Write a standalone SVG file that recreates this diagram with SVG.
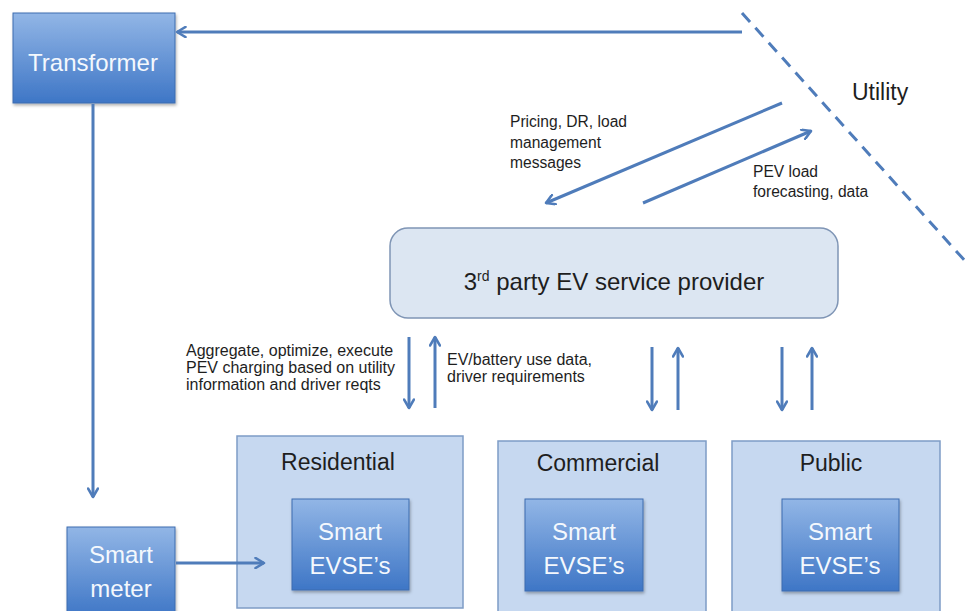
<svg xmlns="http://www.w3.org/2000/svg" width="968" height="611" viewBox="0 0 968 611">
<defs>
<linearGradient id="blueGrad" x1="0" y1="0" x2="0" y2="1">
<stop offset="0" stop-color="#92B6E6"/>
<stop offset="1" stop-color="#3E76C6"/>
</linearGradient>
<filter id="shadow" x="-10%" y="-10%" width="130%" height="130%">
<feDropShadow dx="1" dy="2" stdDeviation="1.5" flood-color="#000" flood-opacity="0.3"/>
</filter>
<marker id="arr" viewBox="0 0 12 12" refX="10" refY="6" markerWidth="12" markerHeight="12" markerUnits="userSpaceOnUse" orient="auto">
<path d="M1.5,1 L10,6 L1.5,11" fill="none" stroke="#4F7CBA" stroke-width="2.6" stroke-linecap="round" stroke-linejoin="round"/>
</marker>
<style>
.dark{fill:url(#blueGrad);stroke:#3D6DAF;stroke-width:1;filter:url(#shadow)}
.group{fill:#C6D8F0;stroke:#7E9CC6;stroke-width:1.5}
.svc{fill:#DCE6F2;stroke:#7F95B5;stroke-width:1.5}
.conn{stroke:#4F7CBA;stroke-width:3;fill:none;marker-end:url(#arr)}
.dash{stroke:#4F7CBA;stroke-width:3;fill:none;stroke-dasharray:12 8}
.wt{font-family:"Liberation Sans",Arial,sans-serif;font-size:24px;fill:#F4F8FD;text-anchor:middle}
.bt{font-family:"Liberation Sans",Arial,sans-serif;font-size:23px;fill:#1E1E1E;text-anchor:middle}
.sm{font-family:"Liberation Sans",Arial,sans-serif;font-size:15.6px;fill:#1E1E1E}
</style>
</defs>
<rect width="968" height="611" fill="#FFFFFF"/>

<g id="utility-boundary">
<line class="dash" x1="742" y1="13" x2="975" y2="272"/>
<text class="bt" x="852" y="100" style="text-anchor:start">Utility</text>
</g>

<g id="labels">
<text class="sm" x="510" y="127">Pricing, DR, load</text>
<text class="sm" x="510" y="148">management</text>
<text class="sm" x="510" y="168">messages</text>
<text class="sm" x="753" y="177">PEV load</text>
<text class="sm" x="753" y="197">forecasting, data</text>
<text class="sm" x="186" y="356" style="font-size:16px">Aggregate, optimize, execute</text>
<text class="sm" x="186" y="373" style="font-size:16px">PEV charging based on utility</text>
<text class="sm" x="186" y="390" style="font-size:16px">information and driver reqts</text>
<text class="sm" x="447" y="365" style="font-size:16px">EV/battery use data,</text>
<text class="sm" x="447" y="382" style="font-size:16px">driver requirements</text>
</g>

<g id="transformer">
<rect class="dark" x="13" y="13" width="162" height="90"/>
<text class="wt" x="93" y="71">Transformer</text>
</g>

<g id="smart-meter">
<rect class="dark" x="67" y="527" width="108" height="90"/>
<text class="wt" x="121" y="563">Smart</text>
<text class="wt" x="121" y="597">meter</text>
</g>

<g id="service-provider">
<rect class="svc" x="390" y="228" width="448" height="90" rx="18" ry="18"/>
<text class="bt" x="614" y="290" style="font-size:24px">3<tspan font-size="14" dy="-9">rd</tspan><tspan dy="9"> party EV service provider</tspan></text>
</g>

<g id="residential">
<rect class="group" x="237" y="436" width="226" height="172"/>
<text class="bt" x="338" y="470">Residential</text>
<g id="residential-evse">
<rect class="dark" x="292" y="499" width="117" height="91"/>
<text class="wt" x="350" y="540">Smart</text>
<text class="wt" x="350" y="574">EVSE’s</text>
</g>
</g>

<g id="commercial">
<rect class="group" x="498" y="441" width="208" height="172"/>
<text class="bt" x="598" y="471">Commercial</text>
<g id="commercial-evse">
<rect class="dark" x="525" y="499" width="118" height="92"/>
<text class="wt" x="584" y="540">Smart</text>
<text class="wt" x="584" y="574">EVSE’s</text>
</g>
</g>

<g id="public">
<rect class="group" x="732" y="441" width="208" height="172"/>
<text class="bt" x="831" y="471">Public</text>
<g id="public-evse">
<rect class="dark" x="782" y="499" width="117" height="92"/>
<text class="wt" x="840" y="540">Smart</text>
<text class="wt" x="840" y="574">EVSE’s</text>
</g>
</g>

<g id="connectors">
<line class="conn" x1="742" y1="32" x2="177" y2="32"/>
<line class="conn" x1="93" y1="104" x2="93" y2="497"/>
<line class="conn" x1="176" y1="563" x2="264" y2="563"/>
<line class="conn" x1="782" y1="103" x2="546" y2="203"/>
<line class="conn" x1="643" y1="203" x2="811" y2="131"/>
<line class="conn" x1="409" y1="337" x2="409" y2="408"/>
<line class="conn" x1="435" y1="408" x2="435" y2="337"/>
<line class="conn" x1="652" y1="347" x2="652" y2="410"/>
<line class="conn" x1="678" y1="410" x2="678" y2="348"/>
<line class="conn" x1="782" y1="347" x2="782" y2="410"/>
<line class="conn" x1="812" y1="410" x2="812" y2="348"/>
</g>
</svg>
